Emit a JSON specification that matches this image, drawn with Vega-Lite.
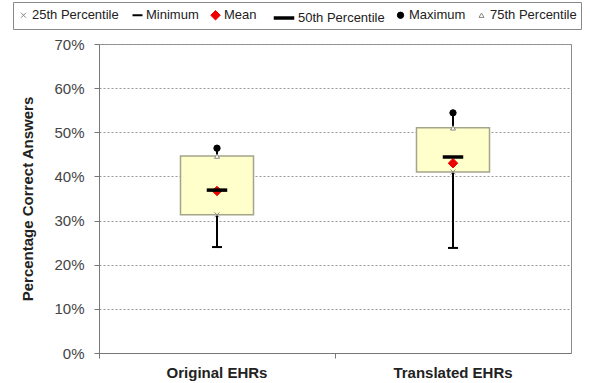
{
  "$schema": "https://vega.github.io/schema/vega-lite/v6.json",
  "width": 472,
  "height": 309,
  "autosize": {"type": "none"},
  "padding": {"left": 99, "top": 44, "right": 19, "bottom": 30},
  "background": "white",
  "config": {
    "font": "Liberation Sans",
    "view": {"stroke": "#8c8c8c", "strokeWidth": 1},
    "legend": {
      "orient": "none",
      "legendX": -86,
      "legendY": -42,
      "direction": "horizontal",
      "labelFontSize": 13,
      "labelColor": "#222",
      "labelOffset": 2,
      "columnPadding": 9,
      "strokeColor": "#888",
      "padding": 4
    }
  },
  "data": {
    "values": [
      {"group": "Original EHRs", "min": 0.240, "q1": 0.313, "median": 0.369, "mean": 0.367, "max": 0.464, "q3": 0.446},
      {"group": "Translated EHRs", "min": 0.238, "q1": 0.410, "median": 0.444, "mean": 0.430, "max": 0.544, "q3": 0.510}
    ]
  },
  "encoding": {
    "x": {
      "field": "group",
      "type": "nominal",
      "sort": null,
      "scale": {"paddingInner": 0, "paddingOuter": 0},
      "axis": {
        "title": null,
        "labelAngle": 0,
        "labelFontSize": 15,
        "labelFontWeight": "bold",
        "labelColor": "#222",
        "labelPadding": 7,
        "bandPosition": 0,
        "tickSize": 5,
        "tickColor": "#777",
        "domainColor": "#777"
      }
    }
  },
  "layer": [
    {
      "mark": {"type": "rule", "color": "black", "strokeWidth": 2},
      "encoding": {
        "y": {
          "field": "min",
          "type": "quantitative",
          "scale": {"domain": [0, 0.7]},
          "axis": {
            "title": "Percentage Correct Answers",
            "titleFontSize": 15,
            "titleFontWeight": "bold",
            "titleColor": "#222",
            "titlePadding": 18,
            "format": ".0%",
            "values": [0, 0.1, 0.2, 0.3, 0.4, 0.5, 0.6, 0.7],
            "labelFontSize": 15,
            "labelColor": "#444",
            "labelPadding": 10,
            "tickSize": 5,
            "tickColor": "#777",
            "domainColor": "#777",
            "grid": true,
            "gridColor": "#999",
            "gridDash": [2, 2]
          }
        },
        "y2": {"field": "max"}
      }
    },
    {
      "mark": {"type": "bar", "size": 73, "fill": "#FFFFCC", "stroke": "#A5A58A", "strokeWidth": 1.5},
      "encoding": {
        "y": {"field": "q1", "type": "quantitative"},
        "y2": {"field": "q3"}
      }
    },
    {
      "transform": [{"fold": ["q1", "min", "mean", "median", "max", "q3"], "as": ["stat", "value"]}],
      "mark": {"type": "point", "opacity": 1},
      "encoding": {
        "y": {"field": "value", "type": "quantitative"},
        "shape": {
          "field": "stat", "type": "nominal",
          "scale": {"domain": ["q1", "min", "mean", "median", "max", "q3"],
                    "range": ["M-1,-1L1,1M-1,1L1,-1", "M-1,0L1,0", "diamond", "M-1,0L1,0", "circle", "triangle-up"]},
          "legend": {"title": null, "labelExpr": "{'q1':'25th Percentile','min':'Minimum','mean':'Mean','median':'50th Percentile','max':'Maximum','q3':'75th Percentile'}[datum.label]"}
        },
        "fill": {
          "field": "stat", "type": "nominal",
          "scale": {"domain": ["q1", "min", "mean", "median", "max", "q3"],
                    "range": ["transparent", "black", "#EE0000", "black", "black", "white"]},
          "legend": {"title": null, "labelExpr": "{'q1':'25th Percentile','min':'Minimum','mean':'Mean','median':'50th Percentile','max':'Maximum','q3':'75th Percentile'}[datum.label]"}
        },
        "stroke": {
          "field": "stat", "type": "nominal",
          "scale": {"domain": ["q1", "min", "mean", "median", "max", "q3"],
                    "range": ["#888", "black", "#EE0000", "black", "black", "#888"]},
          "legend": {"title": null, "labelExpr": "{'q1':'25th Percentile','min':'Minimum','mean':'Mean','median':'50th Percentile','max':'Maximum','q3':'75th Percentile'}[datum.label]"}
        },
        "size": {
          "field": "stat", "type": "nominal",
          "scale": {"type": "ordinal", "domain": ["q1", "min", "mean", "median", "max", "q3"],
                    "range": [25, 100, 90, 420, 40, 25]},
          "legend": {"title": null, "labelExpr": "{'q1':'25th Percentile','min':'Minimum','mean':'Mean','median':'50th Percentile','max':'Maximum','q3':'75th Percentile'}[datum.label]"}
        },
        "strokeWidth": {
          "field": "stat", "type": "nominal",
          "scale": {"type": "ordinal", "domain": ["q1", "min", "mean", "median", "max", "q3"],
                    "range": [1, 2, 1, 3.5, 1, 1]},
          "legend": {"title": null, "labelExpr": "{'q1':'25th Percentile','min':'Minimum','mean':'Mean','median':'50th Percentile','max':'Maximum','q3':'75th Percentile'}[datum.label]"}
        }
      }
    }
  ]
}
